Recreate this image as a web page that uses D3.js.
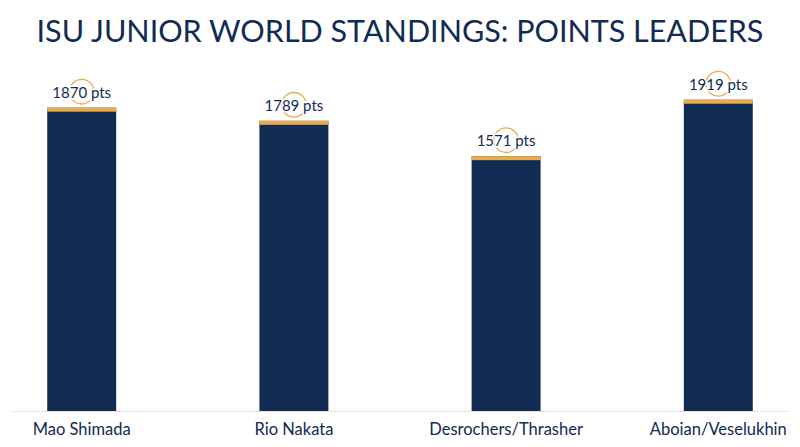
<!DOCTYPE html>
<html>
<head>
<meta charset="utf-8">
<script src="https://cdn.jsdelivr.net/npm/d3@7"></script>
<style>
  body { margin: 0; background: #fff; }
  svg { display: block; }
</style>
</head>
<body>
<div id="container"></div>
<script>
// chart data
const skaters = ["Mao Shimada", "Rio Nakata", "Desrochers/Thrasher", "Aboian/Veselukhin"];
const points = [1870, 1789, 1571, 1919];
const titleText = "ISU JUNIOR WORLD STANDINGS: POINTS LEADERS";

const width = 800, height = 447;
const navy = "#112b52", gold = "#e9ab4c";

const svg = d3.select("#container")
    .append("svg")
    .attr("width", width)
    .attr("height", height);

svg.append("text")
    .attr("x", width / 2)
    .attr("y", 42)
    .attr("text-anchor", "middle")
    .attr("font-family", "Lato, sans-serif")
    .attr("font-size", 30.5)
    .attr("fill", navy)
    .text(titleText);

const x = d3.scaleBand()
    .domain(skaters)
    .range([12, 788])
    .paddingInner(0.675)
    .paddingOuter(0.166);

const y = d3.scaleLinear()
    .domain([0, 2000])
    .range([411, 86.6]);

// baseline + category labels
const xAxis = svg.append("g")
    .attr("transform", `translate(0, ${y(0)})`)
    .call(d3.axisBottom(x).tickSize(0).tickPadding(12.5));
xAxis.select(".domain").attr("stroke", "#e3e3e3").attr("stroke-width", 1.2);
xAxis.selectAll("text")
    .attr("font-family", "Lato, sans-serif")
    .attr("font-size", 16.5)
    .attr("fill", navy);

const bars = svg.append("g")
    .selectAll("g")
    .data(skaters)
    .join("g");

bars.append("rect")
    .attr("x", d => x(d))
    .attr("y", (d, i) => y(points[i]))
    .attr("width", x.bandwidth())
    .attr("height", (d, i) => y(0) - y(points[i]))
    .attr("fill", navy);

// gold cap on top of each bar
bars.append("rect")
    .attr("x", d => x(d))
    .attr("y", (d, i) => y(points[i]))
    .attr("width", x.bandwidth())
    .attr("height", 4)
    .attr("fill", gold);

// little ring behind the value label
bars.append("circle")
    .attr("cx", d => x(d) + x.bandwidth() / 2)
    .attr("cy", (d, i) => y(points[i]) - 16)
    .attr("r", 12.3)
    .attr("fill", "none")
    .attr("stroke", gold)
    .attr("stroke-width", 1.3);

bars.append("text")
    .attr("x", d => x(d) + x.bandwidth() / 2)
    .attr("y", (d, i) => y(points[i]) - 10)
    .attr("text-anchor", "middle")
    .attr("font-family", "Lato, sans-serif")
    .attr("font-size", 15)
    .attr("fill", navy)
    .attr("stroke", "#fff")
    .attr("stroke-width", 3)
    .attr("paint-order", "stroke")
    .text((d, i) => `${points[i]} pts`);
</script>
</body>
</html>
